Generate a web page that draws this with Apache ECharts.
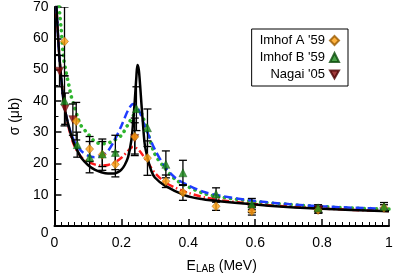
<!DOCTYPE html>
<html><head><meta charset="utf-8">
<script src="https://cdn.jsdelivr.net/npm/echarts@6/dist/echarts.min.js"></script>
<style>html,body{margin:0;padding:0;background:#fff}#c{width:399px;height:279px}</style>
</head><body><div id="c"></div>
<script>
// ---- data ----
const xTicks = [0, 0.2, 0.4, 0.6, 0.8, 1];
const yTicks = [0, 10, 20, 30, 40, 50, 60, 70];

const blackE = [0.003,0.006,0.01,0.014,0.018,0.024,0.03,0.04,0.05,0.06,0.07,0.08,0.10,0.12,0.14,0.16,0.18,0.19,0.20,0.21,0.22,0.23,0.235,0.24,0.245,0.248,0.252,0.256,0.26,0.265,0.27,0.28,0.29,0.30,0.33,0.39,0.44,0.50,0.64,0.80,1.00];
const blackS = [78,70,62,55,50,43,38,33,29,26,23.8,21.8,19.5,18,17.2,16.8,16.8,17.2,18,19.5,22,27.5,33,40,48,51.5,50,45,39,32,26,21,17.5,15.5,12.9,9.8,8.6,7.8,6.5,5.5,4.7];

const blueE = [0.003,0.006,0.01,0.014,0.018,0.024,0.03,0.04,0.05,0.06,0.08,0.10,0.12,0.14,0.16,0.18,0.20,0.22,0.235,0.25,0.27,0.30,0.33,0.36,0.40,0.45,0.50,0.60,0.70,0.80,0.90,1.00];
const blueS = [78,70,62,55,50,43,38,33,29.5,27,24,22.5,22,22.5,24,27.5,32,37,39,37.5,32,24.5,19,15.5,13,10.8,9.6,8,7,6.3,5.8,5.5];

const greenE = [0.010,0.012,0.016,0.02,0.027,0.035,0.042,0.05,0.06,0.07,0.08,0.10,0.12,0.14,0.16,0.18,0.20,0.22,0.24,0.25,0.26,0.28,0.30,0.33,0.36,0.40,0.45,0.50,0.60,0.70,0.80,0.90,1.00];
const greenS = [76,72,67.5,63,54,49,45.5,41.5,38,34.5,32,29.5,27,26.3,26.5,27.5,29,32.5,36,37,36,29.5,23,18.5,15,12.5,10.3,9.2,7.8,6.9,6.2,5.7,5.4];

const redE = [0.003,0.006,0.01,0.014,0.018,0.024,0.03,0.04,0.05,0.06,0.08,0.10,0.12,0.14,0.16,0.18,0.20,0.22,0.235,0.25,0.265,0.29,0.30,0.33,0.36,0.40,0.45,0.50,0.60,0.70,0.80,0.90,1.00];
const redS = [78,70,62,55,50,43,38,32.5,28.5,25.5,22,20.5,19.7,19.3,19.5,20.3,21.8,24,25.3,24.5,22.5,18.5,17,14,12.3,10.6,9.1,8.2,7,6.2,5.6,5.1,4.8];

const imhofAE = [0.03,0.065,0.105,0.143,0.182,0.24,0.278,0.333,0.384,0.483,0.59,0.788,0.985];
const imhofAS = [59,33.5,24.6,22.8,19.7,28.5,21.7,14.3,10.7,6.3,4.7,5.1,5.8];
const imhofAErr = [11,6,4,5,4,6,5.5,2,2.5,1.3,1.2,1,1];

const imhofBE = [0.03,0.068,0.105,0.143,0.182,0.245,0.278,0.333,0.384,0.483,0.59,0.788,0.985];
const imhofBS = [40,26,22,23,23.5,37.5,31.4,19.7,17,10.2,7,5.8,6.2];
const imhofBErr = [8,4,5,4,5.5,7,6,4.3,4,2,1.8,1,1.3];

const nagaiE = [0.015,0.032,0.055,0.24,0.59,0.79];
const nagaiS = [49.5,37.5,34,28,5.3,5.2];
const nagaiErr = [5,5,5,5,1,1];

// ---- build ----
const zip = (a,b) => a.map((v,i)=>[v,b[i]]);
const bars = (e,s,err) => e.map((v,i)=>[v, s[i]-err[i], s[i]+err[i]]);
const FONT = 'Liberation Sans, Arial, Helvetica, sans-serif';
const DOWN_TRI = 'path://M0,0 L10,0 L5,9 Z';

function errItem(params, api){
  const x = api.value(0), lo = api.value(1), hi = api.value(2);
  const pLo = api.coord([x, lo]), pHi = api.coord([x, hi]);
  const w = 4;
  const st = {stroke:'#000', lineWidth:1.3};
  return {type:'group', children:[
    {type:'line', shape:{x1:pLo[0],y1:pLo[1],x2:pHi[0],y2:pHi[1]}, style:st},
    {type:'line', shape:{x1:pLo[0]-w,y1:pLo[1],x2:pLo[0]+w,y2:pLo[1]}, style:st},
    {type:'line', shape:{x1:pHi[0]-w,y1:pHi[1],x2:pHi[0]+w,y2:pHi[1]}, style:st}
  ]};
}
function errSeries(data){
  return {type:'custom', renderItem:errItem, data:data, encode:{x:0,y:[1,2]}, clip:true, silent:true, z:3};
}
function curve(name, e, s, color, type, width, cap){
  return {name:name, type:'line', data:zip(e,s), showSymbol:false, smooth:0.3, clip:true, silent:true,
    lineStyle:{color:color, width:width, type:type, cap:cap||'butt'}, z:2};
}

const chart = echarts.init(document.getElementById('c'), null, {renderer:'canvas'});
chart.setOption({
  animation:false,
  backgroundColor:'#fff',
  textStyle:{fontFamily:FONT},
  grid:{left:48, right:10, top:7, bottom:50},
  legend:{
    orient:'vertical', align:'right', right:51, top:29,
    backgroundColor:'#fff', borderColor:'#000', borderWidth:1, borderRadius:0,
    padding:[5,8,5,8], itemGap:4, itemWidth:9, itemHeight:9,
    textStyle:{fontFamily:FONT, fontSize:13, color:'#000'},
    data:["Imhof A '59","Imhof B '59","Nagai '05"]
  },
  xAxis:{
    type:'value', min:0, max:1, interval:0.2,
    name:'E{sub|LAB} (MeV)', nameLocation:'middle', nameGap:32,
    nameTextStyle:{fontFamily:FONT, fontSize:14, color:'#000', rich:{sub:{fontSize:10, fontFamily:FONT, verticalAlign:'bottom', padding:[6,0,0,0]}}},
    axisLine:{lineStyle:{color:'#000', width:2}},
    axisTick:{inside:true, length:7, lineStyle:{color:'#000', width:1.5}},
    minorTick:{show:true, splitNumber:10, length:4, lineStyle:{color:'#000', width:1}},
    splitLine:{show:false},
    axisLabel:{color:'#000', fontSize:14, fontFamily:FONT, margin:10, formatter:v=>String(v)}
  },
  yAxis:{
    type:'value', min:0, max:70, interval:10,
    name:'σ (μb)', nameLocation:'middle', nameGap:31,
    nameTextStyle:{fontFamily:FONT, fontSize:14, color:'#000'},
    axisLine:{show:true, lineStyle:{color:'#000', width:2}},
    axisTick:{show:true, inside:true, length:7, lineStyle:{color:'#000', width:1.5}},
    minorTick:{show:true, splitNumber:2, length:4, lineStyle:{color:'#000', width:1}},
    splitLine:{show:false},
    axisLabel:{color:'#000', fontSize:14, fontFamily:FONT, margin:6,
      formatter:v=> v===0 ? '{z|0}' : String(v),
      rich:{z:{fontSize:14, fontFamily:FONT, color:'#000', padding:[15,0,0,0]}}}
  },
  series:[
    curve('green', greenE, greenS, '#2fb52f', [0.1,6], 3.6, 'round'),
    curve('red', redE, redS, '#ff1a1a', [7,3,1.5,3], 2.5),
    curve('blue', blueE, blueS, '#1f3cff', [8,4], 2.5),
    curve('black', blackE, blackS, '#000', 'solid', 2.5),
    errSeries(bars(imhofAE, imhofAS, imhofAErr)),
    errSeries(bars(imhofBE, imhofBS, imhofBErr)),
    errSeries(bars(nagaiE, nagaiS, nagaiErr)),
    {name:"Nagai '05", type:'scatter', data:zip(nagaiE,nagaiS), symbol:DOWN_TRI, symbolSize:[8,8],
      itemStyle:{color:'#8b0a0a', borderColor:'#4a0000', borderWidth:0.5}, z:5},
    {name:"Imhof A '59", type:'scatter', data:zip(imhofAE,imhofAS), symbol:'diamond', symbolSize:[8,9],
      itemStyle:{color:'#ffa010', borderColor:'#9a5a00', borderWidth:0.6}, z:6},
    {name:"Imhof B '59", type:'scatter', data:zip(imhofBE,imhofBS), symbol:'triangle', symbolSize:8,
      itemStyle:{color:'#1a8a1a', borderColor:'#0a4a0a', borderWidth:0.5}, z:7}
  ]
});
</script></body></html>
